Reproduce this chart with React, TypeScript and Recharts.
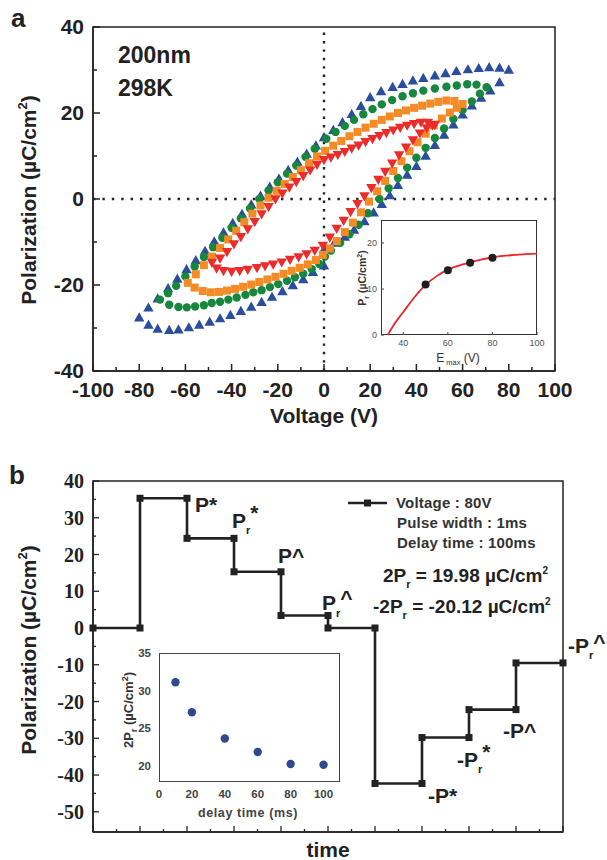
import React from 'react';
import {
  ScatterChart,
  Scatter,
  ComposedChart,
  Line,
  XAxis,
  YAxis,
  ReferenceLine,
  ReferenceArea,
} from 'recharts';

const SANS = '"Liberation Sans", Arial, sans-serif';
const SERIF = '"Liberation Serif", "Times New Roman", serif';
const INK = '#222';

// panel a: P-E loops as [voltage, polarization], upper branch then lower branch
const loop80V: [number, number][] = [
  [80, 30], [76, 30.5], [71.5, 30.6], [67, 30.4], [62.3, 30.1], [57.3, 29.7], [52.6, 29.2], [48, 28.7],
  [43, 28.1], [38.5, 27.5], [34, 26.7], [29.7, 26], [24.7, 25], [20, 23.6], [16, 21.6], [12, 19.7],
  [8, 17.8], [4, 16], [0, 14.3], [-3.5, 12.4], [-7.5, 10.5], [-11.5, 8.6], [-15.5, 6.7], [-19.5, 4.7],
  [-23.5, 2.8], [-27.5, 0.7], [-31.5, -1.3], [-35.5, -3.5], [-39.5, -5.6], [-43.5, -7.8], [-47.5, -9.9],
  [-51.5, -12.1], [-55.5, -14.3], [-59.5, -16.4], [-63.5, -18.6], [-67.5, -20.8], [-72, -23.2],
  [-76, -25.3], [-80, -27.6],
  [-76, -29.3], [-72, -30.2], [-67, -30.5], [-63, -30.4], [-58.5, -29.9], [-54, -29.3], [-49.5, -28.6],
  [-45, -27.8], [-40.5, -27], [-36, -26.1], [-31.5, -25.1], [-27, -24], [-22.5, -22.8], [-18, -21.5],
  [-13.5, -20.1], [-9, -18.7], [-4.8, -17], [0, -15.5], [0.4, -11.4], [4.5, -10.2], [9, -8.8],
  [13, -7.2], [17.5, -5.2], [21.5, -3.2], [25, -1.2], [28.5, 0.8], [32, 3.2], [36, 5.6], [40, 7.6],
  [44, 10], [48, 12.5], [52, 14.9], [56, 17.3], [60, 19.6], [64, 21.7], [68, 23.5], [72, 25.2], [76, 27.1],
];

const loop70V: [number, number][] = [
  [70.4, 26], [66, 26.6], [62, 26.7], [57.5, 26.4], [53, 26.1], [48, 25.7], [43, 25.2], [38.5, 24.6],
  [34, 23.9], [29.5, 23], [25, 22], [21, 20.9], [17, 19.7], [13, 18.4], [9, 17], [5, 15.6], [1, 14],
  [-4, 11.7], [-8, 9.8], [-12, 7.8], [-16, 5.9], [-20, 3.9], [-24, 2], [-28, 0], [-32, -2.2],
  [-36, -4.5], [-40, -6.7], [-44, -9], [-48, -11.2], [-52, -13.5], [-56, -15.7], [-60, -18],
  [-64, -20.2], [-67.5, -21.9], [-71, -23.4],
  [-67, -24.6], [-63, -25.1], [-59.4, -25.2], [-55.8, -25], [-52, -24.7], [-48.6, -24.2], [-45, -23.9],
  [-41.4, -23.4], [-37.8, -22.9], [-34, -22.3], [-30.6, -21.7], [-27, -21.2], [-23.4, -20.5],
  [-19.8, -19.8], [-16, -19], [-12.6, -18.2], [-9, -17.4], [-5.3, -16.3], [-2, -15.1], [0.4, -13.4],
  [3, -12], [7, -10.2], [11, -8.2], [15, -6], [19, -3.3], [24, 0], [28, 2.5], [32, 4.9], [36, 7.3],
  [40, 9.6], [44, 11.9], [48, 14.2], [52, 16.4], [56, 18.6], [60, 20.7], [64, 22.7], [67.5, 24.5],
];

const loop60V: [number, number][] = [
  [60, 22.1], [56.5, 22.8], [53, 22.9], [49.5, 22.6], [46, 22.2], [42.5, 21.7], [39, 21.2], [35.5, 20.6],
  [32, 20], [28.5, 19.2], [25, 18.4], [21.5, 17.5], [18, 16.6], [14.5, 15.6], [11, 14.6], [7.5, 13.5],
  [4, 12.4], [0.5, 11.2], [-3, 9.9], [-6.5, 8.3], [-10, 6.7], [-13.5, 5.1], [-17, 3.5], [-20.5, 1.9],
  [-24, 0.3], [-27.5, -1.5], [-31, -3.4], [-34.5, -5.4], [-38, -7.4], [-41.5, -9.4], [-45, -11.4],
  [-48.5, -13.4], [-52, -15.4], [-55.5, -17.5], [-59, -19.5],
  [-56, -20.6], [-52.5, -21.4], [-49, -21.7], [-45.5, -21.6], [-42, -21.3], [-38.5, -20.9], [-35, -20.4],
  [-31.5, -19.9], [-28, -19.3], [-24.5, -18.7], [-21, -18.1], [-17.5, -17.4], [-14, -16.7], [-10.5, -16],
  [-7, -15.2], [-3.5, -14.2], [-0.5, -13], [2.5, -11.5], [5.5, -9.8], [9, -7.7], [12.5, -5.5],
  [16, -3.1], [19.5, -0.6], [23, 1.8], [26.5, 4.2], [30, 6.5], [33.5, 8.8], [37, 11.1], [40.5, 13.2],
  [44, 15.2], [47.5, 17.1], [51, 18.7], [54.5, 20.1], [57.5, 21.2],
];

const loop50V: [number, number][] = [
  [48, 17.3], [45, 17.8], [42, 17.8], [39, 17.5], [36, 17.1], [33, 16.6], [30, 16], [27, 15.4],
  [24, 14.7], [21, 14], [18, 13.3], [15, 12.5], [12, 11.8], [9, 11], [6, 10.3], [3, 9.7], [0, 9.1],
  [-3, 8], [-6, 6.7], [-9, 5.4], [-12, 4], [-15, 2.7], [-18, 1.3], [-21, 0], [-24, -1.8], [-27, -3.5],
  [-30, -5.3], [-33, -7], [-36, -8.8], [-39, -10.5], [-42, -12.3], [-45, -13.8], [-48.5, -14.8],
  [-46.5, -16.1], [-43.5, -16.7], [-40, -16.9], [-36.5, -16.7], [-33, -16.4], [-29, -16], [-25.5, -15.6],
  [-22, -15.2], [-18.3, -14.7], [-14.7, -14.1], [-11, -13.5], [-7.5, -12.8], [-4, -12], [-0.5, -10.8],
  [2.5, -8.9], [5.5, -6.9], [8.5, -5], [11.5, -3], [14.5, -1.1], [17.5, 0.7], [20.5, 2.6], [23.5, 4.5],
  [26.5, 6.4], [29.5, 8.3], [32.5, 10.2], [35.5, 12], [38.5, 13.7], [41.5, 15.3], [44.5, 16.5], [47, 17.2],
];

// panel a inset: Pr vs Emax
const emaxPoints = [50, 60, 70, 80];
const prPoints = [11, 14.1, 15.7, 16.8];
const fitEmax = [33, 36, 40, 45, 50, 55, 60, 65, 70, 75, 80, 85, 90, 95, 100];
const fitPr = [0, 2.4, 5, 8.2, 10.9, 12.8, 14.2, 15.1, 15.8, 16.4, 16.9, 17.2, 17.4, 17.6, 17.7];

// panel b: pulse sequence
const stepTimes = [0, 1, 1, 2, 2, 3, 3, 4, 4, 5, 5, 6, 6, 7, 7, 8, 8, 9, 9, 10];
const stepPol = [0, 0, 35.3, 35.3, 24.4, 24.4, 15.3, 15.3, 3.4, 3.4, 0, 0, -42.3, -42.3, -29.8, -29.8, -22.2, -22.2, -9.5, -9.5];

// panel b inset: 2Pr vs delay time
const delayTimes = [10, 20, 40, 60, 80, 100];
const twoPr = [31.1, 27.1, 23.6, 21.8, 20.2, 20.1];

const xTicksA = [-100, -90, -80, -70, -60, -50, -40, -30, -20, -10, 0, 10, 20, 30, 40, 50, 60, 70, 80, 90, 100];
const yTicksA = [-40, -30, -20, -10, 0, 10, 20, 30, 40];
const xTicksB = [0, 0.5, 1, 1.5, 2, 2.5, 3, 3.5, 4, 4.5, 5, 5.5, 6, 6.5, 7, 7.5, 8, 8.5, 9, 9.5, 10];
const yTicksB = [-50, -45, -40, -35, -30, -25, -20, -15, -10, -5, 0, 5, 10, 15, 20, 25, 30, 35, 40];

const BLUE = '#2b4d9e';
const GREEN = '#16873d';
const ORANGE = '#f38b26';
const RED = '#ec2b2b';

const toPts = (arr: [number, number][]) => arr.map(([v, p]) => ({ v, p }));

const upTri = (fill: string) => (p: any) => (
  <polygon points={`${p.cx},${p.cy - 5.4} ${p.cx - 5.2},${p.cy + 3.8} ${p.cx + 5.2},${p.cy + 3.8}`} fill={fill} />
);
const downTri = (fill: string) => (p: any) => (
  <polygon points={`${p.cx},${p.cy + 5.4} ${p.cx - 5.2},${p.cy - 3.8} ${p.cx + 5.2},${p.cy - 3.8}`} fill={fill} />
);
const dotShape = (fill: string, r: number) => (p: any) => <circle cx={p.cx} cy={p.cy} r={r} fill={fill} />;
const squareShape = (fill: string, s: number) => (p: any) => (
  <rect x={p.cx - s / 2} y={p.cy - s / 2} width={s} height={s} fill={fill} />
);

const TopXTick = ({ x, y, payload }: any) => {
  const major = payload.value % 20 === 0;
  return (
    <g>
      <line x1={x} y1={y} x2={x} y2={y - (major ? 7 : 4)} stroke={INK} strokeWidth={1.5} />
      {major && (
        <text x={x} y={y + 26} textAnchor="middle" fontSize={21} fontWeight="bold" fontFamily={SANS} fill={INK}>
          {payload.value}
        </text>
      )}
    </g>
  );
};

const TopYTick = ({ x, y, payload }: any) => {
  const major = payload.value % 20 === 0;
  return (
    <g>
      <line x1={x} y1={y} x2={x + (major ? 7 : 4)} y2={y} stroke={INK} strokeWidth={1.5} />
      {major && (
        <text x={x - 9} y={y + 7} textAnchor="end" fontSize={21} fontWeight="bold" fontFamily={SANS} fill={INK}>
          {payload.value}
        </text>
      )}
    </g>
  );
};

const BottomXTick = ({ x, y, payload }: any) => {
  const major = Number.isInteger(payload.value);
  return <line x1={x} y1={y} x2={x} y2={y - (major ? 6 : 3)} stroke={INK} strokeWidth={1.3} />;
};

const BottomYTick = ({ x, y, payload }: any) => {
  const major = payload.value % 10 === 0;
  return (
    <g>
      <line x1={x} y1={y} x2={x + (major ? 6 : 3)} y2={y} stroke={INK} strokeWidth={1.3} />
      {major && (
        <text x={x - 9} y={y + 7} textAnchor="end" fontSize={20} fontWeight="bold" fontFamily={SERIF} fill={INK}>
          {payload.value}
        </text>
      )}
    </g>
  );
};

const InsetATickX = ({ x, y, payload }: any) => (
  <g>
    <line x1={x} y1={y} x2={x} y2={y - 3} stroke="#444" />
    <text x={x} y={y + 11} textAnchor="middle" fontSize={9} fontFamily={SANS} fill="#555">{payload.value}</text>
  </g>
);
const InsetATickY = ({ x, y, payload }: any) => (
  <g>
    <line x1={x} y1={y} x2={x + 3} y2={y} stroke="#444" />
    <text x={x - 4} y={y + 3} textAnchor="end" fontSize={9} fontFamily={SANS} fill="#555">{payload.value}</text>
  </g>
);
const InsetBTickX = ({ x, y, payload }: any) => (
  <text x={x} y={y + 16} textAnchor="middle" fontSize={11.5} fontWeight="bold" fontFamily={SANS} fill="#444">
    {payload.value}
  </text>
);
const InsetBTickY = ({ x, y, payload }: any) => (
  <text x={x - 8} y={y + 4} textAnchor="end" fontSize={11.5} fontWeight="bold" fontFamily={SANS} fill="#444">
    {payload.value}
  </text>
);

const SquareDot = (p: any) => (
  <rect key={`sq-${p.index}`} x={p.cx - 3.5} y={p.cy - 3.5} width={7} height={7} fill={INK} />
);

const axisLine = { stroke: INK, strokeWidth: 1.5 };

export default function App() {
  const fitData = fitEmax.map((v, i) => ({ v, p: fitPr[i] }));
  const prData = emaxPoints.map((v, i) => ({ v, p: prPoints[i] }));
  const stepData = stepTimes.map((t, i) => ({ t, p: stepPol[i] }));
  const delayData = delayTimes.map((d, i) => ({ d, p: twoPr[i] }));

  const big = { fontFamily: SANS, fontWeight: 'bold' as const, fill: INK };
  const note = { fontFamily: SANS, fontWeight: 'bold' as const, fill: '#333', fontSize: 15, letterSpacing: 0.2 };

  return (
    <div style={{ position: 'absolute', left: 0, top: 0, width: 607, height: 860, background: '#fff' }}>
      {/* panel a */}
      <div style={{ position: 'absolute', left: 0, top: 0 }}>
        <ScatterChart width={607} height={430} margin={{ top: 27, right: 52, bottom: 0, left: 0 }}>
          <XAxis type="number" dataKey="v" domain={[-100, 100]} ticks={xTicksA} interval={0} height={59}
            tickSize={0} tickMargin={0} tickLine={false} axisLine={axisLine} tick={TopXTick} />
          <YAxis type="number" dataKey="p" domain={[-40, 40]} ticks={yTicksA} interval={0} width={93}
            tickSize={0} tickMargin={0} tickLine={false} axisLine={axisLine} tick={TopYTick} />
          <ReferenceArea x1={-100} x2={100} y1={-40} y2={40} fill="none" stroke={INK} strokeWidth={1.5} />
          <ReferenceLine x={0} stroke="#222" strokeWidth={2.4} strokeDasharray="2.4 6" />
          <ReferenceLine y={0} stroke="#222" strokeWidth={2.4} strokeDasharray="2.4 7" />
          <Scatter data={toPts(loop80V)} shape={upTri(BLUE)} isAnimationActive={false} />
          <Scatter data={toPts(loop70V)} shape={dotShape(GREEN, 4.2)} isAnimationActive={false} />
          <Scatter data={toPts(loop60V)} shape={squareShape(ORANGE, 8)} isAnimationActive={false} />
          <Scatter data={toPts(loop50V)} shape={downTri(RED)} isAnimationActive={false} />
        </ScatterChart>
      </div>

      {/* panel a inset */}
      <div style={{ position: 'absolute', left: 381, top: 220, width: 156, height: 115, background: '#fff',
        border: '1.5px solid #333', boxSizing: 'border-box' }} />
      <div style={{ position: 'absolute', left: 340, top: 210 }}>
        <ComposedChart width={215} height={165} data={fitData} margin={{ top: 10, right: 18, bottom: 0, left: 0 }}>
          <XAxis type="number" dataKey="v" domain={[30, 100]} ticks={[40, 60, 80, 100]} interval={0} height={40}
            tickSize={0} tickMargin={0} tickLine={false} axisLine={false} tick={InsetATickX} />
          <YAxis type="number" dataKey="p" domain={[0, 25]} ticks={[0, 10, 20]} interval={0} width={41}
            tickSize={0} tickMargin={0} tickLine={false} axisLine={false} tick={InsetATickY} />
          <Line dataKey="p" type="monotone" stroke="#e8262b" strokeWidth={1.8} dot={false} isAnimationActive={false} />
          <Scatter data={prData} shape={dotShape('#1e1e1e', 4)} isAnimationActive={false} />
        </ComposedChart>
      </div>

      {/* panel b */}
      <div style={{ position: 'absolute', left: 0, top: 430 }}>
        <ComposedChart width={607} height={430} data={stepData} margin={{ top: 51, right: 44, bottom: 0, left: 0 }}>
          <XAxis type="number" dataKey="t" domain={[0, 10]} ticks={xTicksB} interval={0} height={28}
            tickSize={0} tickMargin={0} tickLine={false} axisLine={axisLine} tick={BottomXTick} />
          <YAxis type="number" domain={[-55.5, 40]} ticks={yTicksB} interval={0} width={93}
            tickSize={0} tickMargin={0} tickLine={false} axisLine={axisLine} tick={BottomYTick} />
          <ReferenceArea x1={0} x2={10} y1={-55.5} y2={40} fill="none" stroke={INK} strokeWidth={1.5} />
          <Line dataKey="p" type="linear" stroke={INK} strokeWidth={2.6} dot={SquareDot} isAnimationActive={false} />
        </ComposedChart>
      </div>

      {/* panel b inset */}
      <div style={{ position: 'absolute', left: 159, top: 653, width: 181, height: 129, background: '#fff',
        border: '1.5px solid #444', boxSizing: 'border-box' }} />
      <div style={{ position: 'absolute', left: 100, top: 645 }}>
        <ScatterChart width={245} height={180} margin={{ top: 8, right: 5, bottom: 0, left: 0 }}>
          <XAxis type="number" dataKey="d" domain={[0, 110]} ticks={[0, 20, 40, 60, 80, 100]} interval={0} height={43}
            tickSize={0} tickMargin={0} tickLine={false} axisLine={false} tick={InsetBTickX} />
          <YAxis type="number" dataKey="p" domain={[17.8, 35]} ticks={[20, 25, 30, 35]} interval={0} width={59}
            tickSize={0} tickMargin={0} tickLine={false} axisLine={false} tick={InsetBTickY} />
          <Scatter data={delayData} shape={dotShape('#2d4a8c', 4.2)} isAnimationActive={false} />
        </ScatterChart>
      </div>

      {/* titles and annotations */}
      <svg width={607} height={860} style={{ position: 'absolute', left: 0, top: 0, pointerEvents: 'none' }}>
        <text x={11} y={27} fontSize={26} {...big}>a</text>
        <text x={118} y={63} fontSize={23} {...big}>200nm</text>
        <text x={118} y={96} fontSize={23} {...big}>298K</text>
        <text transform="translate(36,200) rotate(-90)" textAnchor="middle" fontSize={21} {...big}>
          Polarization (µC/cm<tspan dy={-9} fontSize={13}>2</tspan><tspan dy={9}>)</tspan>
        </text>
        <text x={324} y={423} textAnchor="middle" fontSize={21} {...big}>Voltage (V)</text>

        <text transform="translate(366,278) rotate(-90)" textAnchor="middle" fontSize={10.5} fontFamily={SANS} fontWeight="bold" fill="#333">
          P<tspan dy={3} fontSize={7}>r</tspan><tspan dy={-3}> (µC/cm</tspan><tspan dy={-4} fontSize={7}>2</tspan><tspan dy={4}>)</tspan>
        </text>
        <text x={458} y={362} textAnchor="middle" fontSize={12} fontFamily={SANS} fill="#333">
          E<tspan dy={3} fontSize={7.5}> max</tspan><tspan dy={-3}> (V)</tspan>
        </text>

        <text x={9} y={484} fontSize={26} {...big}>b</text>
        <text transform="translate(36,650) rotate(-90)" textAnchor="middle" fontSize={21} {...big}>
          Polarization (µC/cm<tspan dy={-9} fontSize={13}>2</tspan><tspan dy={9}>)</tspan>
        </text>
        <text x={328} y={857} textAnchor="middle" fontSize={21} {...big}>time</text>

        <text transform="translate(133,710) rotate(-90)" textAnchor="middle" fontSize={13} fontFamily={SANS} fontWeight="bold" fill="#333">
          2P<tspan dy={4} fontSize={9}>r</tspan><tspan dy={-4}> (µC/cm</tspan><tspan dy={-5} fontSize={9}>2</tspan><tspan dy={5}>)</tspan>
        </text>
        <text x={248} y={817} textAnchor="middle" fontSize={12.5} fontFamily={SANS} fontWeight="bold" fill="#444" letterSpacing={0.6}>
          delay time (ms)
        </text>

        <line x1={348} y1={503} x2={387} y2={503} stroke={INK} strokeWidth={2.6} />
        <rect x={364} y={499.5} width={7} height={7} fill={INK} />
        <text x={396} y={508} {...note}>Voltage : 80V</text>
        <text x={397} y={528} {...note}>Pulse width : 1ms</text>
        <text x={397} y={548} {...note}>Delay time : 100ms</text>
        <text x={383} y={582} fontSize={19} {...big}>
          2P<tspan dy={6} fontSize={11}>r</tspan><tspan dy={-6}> = 19.98 µC/cm</tspan><tspan dy={-8} fontSize={10}>2</tspan>
        </text>
        <text x={373} y={613} fontSize={19} {...big}>
          -2P<tspan dy={6} fontSize={11}>r</tspan><tspan dy={-6}> = -20.12 µC/cm</tspan><tspan dy={-8} fontSize={10}>2</tspan>
        </text>

        <text x={195} y={512} fontSize={21} {...big}>P*</text>
        <text x={232} y={528} fontSize={21} {...big}>
          P<tspan dy={6} fontSize={11}>r</tspan><tspan dy={-14}>*</tspan>
        </text>
        <text x={278} y={563} fontSize={21} {...big}>P^</text>
        <text x={322} y={610} fontSize={21} {...big}>
          P<tspan dy={7} fontSize={11}>r</tspan><tspan dy={-12}>^</tspan>
        </text>
        <text x={428} y={803} fontSize={21} {...big}>-P*</text>
        <text x={457} y={767} fontSize={21} {...big}>
          -P<tspan dy={6} fontSize={11}>r</tspan><tspan dy={-14}>*</tspan>
        </text>
        <text x={503} y={738} fontSize={21} {...big}>-P^</text>
        <text x={568} y={653} fontSize={21} {...big}>
          -P<tspan dy={6} fontSize={11}>r</tspan><tspan dy={-10}>^</tspan>
        </text>
      </svg>
    </div>
  );
}
